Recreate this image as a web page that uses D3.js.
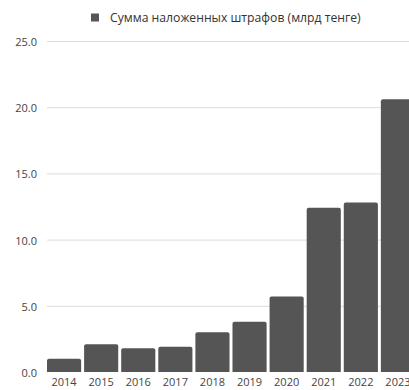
<!DOCTYPE html>
<html><head><meta charset="utf-8">
<script src="https://cdn.jsdelivr.net/npm/d3@7"></script>
<style>body{margin:0;background:#fff;overflow:hidden}svg{display:block}text{font-family:"Open Sans",sans-serif}</style>
</head><body>
<script>
const years = ["2014","2015","2016","2017","2018","2019","2020","2021","2022","2023"];
const fines = [1.0, 2.1, 1.8, 1.9, 3.0, 3.8, 5.7, 12.4, 12.8, 20.6];
const yTicks = [0, 5, 10, 15, 20, 25];
const seriesName = "Сумма наложенных штрафов (млрд тенге)";

const W = 409, H = 390;
const svg = d3.select("body").append("svg").attr("width", W).attr("height", H);
const x = d3.scaleBand().domain(years).range([47, 415]).paddingInner(0.08).paddingOuter(0);
const y = d3.scaleLinear().domain([0, 25]).range([372, 41]);

const grid = svg.append("g");
grid.selectAll("line").data(yTicks.filter(d => d > 0)).join("line")
  .attr("x1", 47).attr("x2", W).attr("y1", d => y(d) + 0.5).attr("y2", d => y(d) + 0.5)
  .attr("stroke", "#dcdcdc").attr("stroke-width", 1);

const yAxis = d3.axisLeft(y).tickValues(yTicks).tickFormat(d3.format(".1f")).tickSize(0).tickPadding(0);
svg.append("g").attr("transform", "translate(37,1)").call(yAxis)
  .call(g => g.select(".domain").remove())
  .call(g => g.selectAll("text").attr("font-size", 11).attr("fill", "#444").attr("font-family", "Open Sans"));

svg.append("g").selectAll("path").data(years).join("path")
  .attr("fill", "#555555")
  .attr("d", (d, i) => {
    const x0 = x(d), w = x.bandwidth(), yt = y(fines[i]), yb = y(0), r = 2;
    return `M${x0},${yb}V${yt + r}Q${x0},${yt} ${x0 + r},${yt}H${x0 + w - r}Q${x0 + w},${yt} ${x0 + w},${yt + r}V${yb}Z`;
  });

const xAxis = d3.axisBottom(x).tickSize(0).tickPadding(6);
svg.append("g").attr("transform", `translate(0,${y(0)})`).call(xAxis)
  .call(g => g.select(".domain").remove())
  .call(g => g.selectAll("text").attr("font-size", 11).attr("fill", "#444").attr("font-family", "Open Sans"));

const leg = svg.append("g");
leg.append("rect").attr("x", 91).attr("y", 13.5).attr("width", 8).attr("height", 8).attr("fill", "#555555");
leg.append("text").attr("x", 110).attr("y", 21.5).attr("font-size", 12.2).attr("fill", "#333").text(seriesName);
</script>
</body></html>
